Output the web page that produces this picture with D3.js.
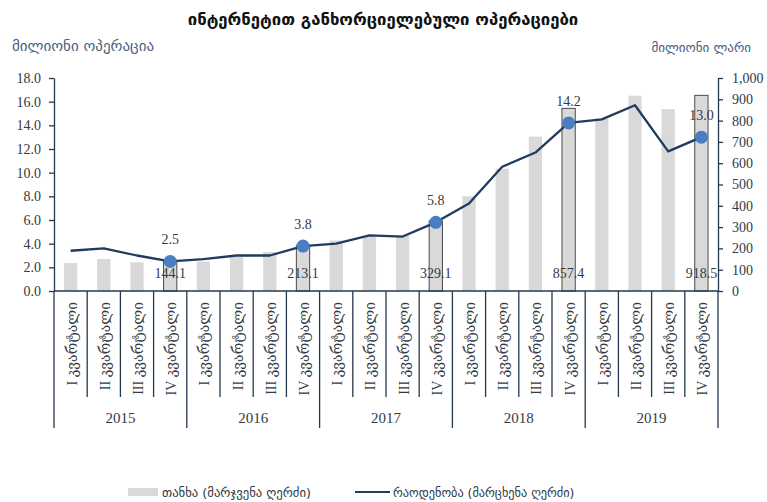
<!DOCTYPE html>
<html>
<head>
<meta charset="utf-8">
<script src="https://cdn.jsdelivr.net/npm/d3@7"></script>
<style>
  html, body { margin: 0; padding: 0; background: #fff; }
  svg { display: block; }
</style>
</head>
<body>
<svg id="chart" width="767" height="502"></svg>
<script>
// Internet operations by quarter, 2015–2019
const years = ["2015", "2016", "2017", "2018", "2019"];
const quarters = ["I კვარტალი", "II კვარტალი", "III კვარტალი", "IV კვარტალი"];
// amount, million GEL (right axis, bars)
const amount = [131, 150, 135, 144.1, 138, 162, 183, 213.1, 237, 255, 262, 329.1,
                445, 574, 725, 857.4, 810, 917, 854, 918.5];
// count, million operations (left axis, line)
const count = [3.4, 3.6, 3.0, 2.5, 2.7, 3.0, 3.0, 3.8, 4.0, 4.7, 4.6, 5.8,
               7.4, 10.5, 11.7, 14.2, 14.5, 15.7, 11.8, 13.0];
const leftTicks = [0, 2, 4, 6, 8, 10, 12, 14, 16, 18];
const rightTicks = [0, 100, 200, 300, 400, 500, 600, 700, 800, 900, 1000];

const title = "ინტერნეტით განხორციელებული ოპერაციები";
const leftTitle = "მილიონი ოპერაცია";
const rightTitle = "მილიონი ლარი";
const legendBar = "თანხა (მარჯვენა ღერძი)";
const legendLine = "რაოდენობა (მარცხენა ღერძი)";

const rows = [];
years.forEach((yr, yi) => quarters.forEach((q, qi) => {
  const i = yi * 4 + qi;
  rows.push({ key: yr + "-" + qi, year: yr, quarter: q, amount: amount[i], count: count[i], mark: qi === 3 });
}));

const svg = d3.select("#chart");
const W = 767, H = 502;
const m = { top: 78, right: 49, bottom: 211, left: 54 };
const x0 = m.left, x1 = W - m.right, yBase = H - m.bottom;

const serif = "'Liberation Serif', 'DejaVu Serif', serif";
const geo = "'DejaVu Sans', sans-serif";
const axisColor = "#24384f";
const textColor = "#333a44";

const x = d3.scaleBand().domain(rows.map(d => d.key)).range([x0, x1]).paddingInner(0).paddingOuter(0);
const yL = d3.scaleLinear().domain([0, 18]).range([yBase, m.top]);
const yR = d3.scaleLinear().domain([0, 1000]).range([yBase, m.top]);
const bw = x.bandwidth() * 0.4;

// title
svg.append("text").attr("x", 383).attr("y", 25).attr("text-anchor", "middle")
  .style("font-family", geo).style("font-weight", "bold").style("font-size", "16.7px")
  .attr("fill", "#111").text(title);

// axis titles
svg.append("text").attr("x", 12).attr("y", 51).style("font-family", geo).style("font-size", "15px")
  .attr("fill", "#46607e").text(leftTitle);
svg.append("text").attr("x", 751).attr("y", 52).attr("text-anchor", "end").style("font-family", geo).style("font-size", "13px")
  .attr("fill", "#46607e").text(rightTitle);

// bars
svg.append("g").selectAll("rect").data(rows).join("rect")
  .attr("x", d => x(d.key) + (x.bandwidth() - bw) / 2)
  .attr("y", d => yR(d.amount))
  .attr("width", bw)
  .attr("height", d => yBase - yR(d.amount))
  .attr("fill", "#d9d9d9")
  .attr("stroke", d => d.mark ? "#4a4a4a" : "none")
  .attr("stroke-width", 1);

// line
const line = d3.line().x(d => x(d.key) + x.bandwidth() / 2).y(d => yL(d.count));
svg.append("path").datum(rows).attr("d", line)
  .attr("fill", "none").attr("stroke", "#1f3b5e").attr("stroke-width", 2.3).attr("stroke-linejoin", "round");

// highlighted points
const marked = rows.filter(d => d.mark);
svg.append("g").selectAll("circle").data(marked).join("circle")
  .attr("cx", d => x(d.key) + x.bandwidth() / 2)
  .attr("cy", d => yL(d.count))
  .attr("r", 6.5)
  .attr("fill", "#4a7dc2");

// value labels
svg.append("g").selectAll("text").data(marked).join("text")
  .attr("x", d => x(d.key) + x.bandwidth() / 2)
  .attr("y", d => yL(d.count) - 17)
  .attr("text-anchor", "middle")
  .style("font-family", serif).style("font-size", "14px").attr("fill", textColor)
  .text(d => d3.format(".1f")(d.count));
svg.append("g").selectAll("text").data(marked).join("text")
  .attr("x", d => x(d.key) + x.bandwidth() / 2)
  .attr("y", 278)
  .attr("text-anchor", "middle")
  .style("font-family", serif).style("font-size", "14px").attr("fill", textColor)
  .text(d => d3.format(".1f")(d.amount));

// left axis
const axL = svg.append("g").attr("transform", `translate(${x0},0)`)
  .call(d3.axisLeft(yL).tickValues(leftTicks).tickFormat(d3.format(".1f")).tickSize(5).tickSizeOuter(0));
// right axis
const axR = svg.append("g").attr("transform", `translate(${x1},0)`)
  .call(d3.axisRight(yR).tickValues(rightTicks).tickFormat(d3.format(",")).tickSize(5).tickSizeOuter(0));
[axL, axR].forEach(g => {
  g.select(".domain").attr("stroke", axisColor).attr("stroke-width", 1.3);
  g.selectAll(".tick line").attr("stroke", axisColor).attr("stroke-width", 1.3);
  g.selectAll(".tick text").style("font-family", serif).style("font-size", "14px").attr("fill", textColor);
});
axL.selectAll(".tick text").attr("x", -13);
axR.selectAll(".tick text").attr("x", 14);

// category axis: baseline, dividers, labels
const gx = svg.append("g");
gx.append("line").attr("x1", x0).attr("x2", x1).attr("y1", yBase).attr("y2", yBase)
  .attr("stroke", axisColor).attr("stroke-width", 1.3);
const bounds = rows.map(d => x(d.key)).concat([x1]);
gx.selectAll("line.div").data(bounds).join("line").attr("class", "div")
  .attr("x1", d => d).attr("x2", d => d)
  .attr("y1", yBase)
  .attr("y2", (d, i) => i % 4 === 0 ? 428 : 397)
  .attr("stroke", axisColor).attr("stroke-width", 1.3);
gx.selectAll("text.q").data(rows).join("text").attr("class", "q")
  .attr("transform", d => `translate(${x(d.key) + x.bandwidth() / 2 + 1.5},302) rotate(-90)`)
  .attr("text-anchor", "end").attr("dominant-baseline", "central")
  .style("font-family", serif).style("font-size", "14px").attr("fill", textColor)
  .text(d => d.quarter);
gx.selectAll("text.yr").data(years).join("text").attr("class", "yr")
  .attr("x", (d, i) => (bounds[i * 4] + bounds[i * 4 + 4]) / 2)
  .attr("y", 423).attr("text-anchor", "middle")
  .style("font-family", serif).style("font-size", "15px").attr("fill", textColor)
  .text(d => d);

// legend
const lg = svg.append("g");
lg.append("rect").attr("x", 128).attr("y", 488).attr("width", 30).attr("height", 8).attr("fill", "#d9d9d9");
lg.append("text").attr("x", 162).attr("y", 497).style("font-family", geo).style("font-size", "12.7px")
  .attr("fill", textColor).text(legendBar);
lg.append("line").attr("x1", 355).attr("x2", 390).attr("y1", 492).attr("y2", 492)
  .attr("stroke", "#1f3b5e").attr("stroke-width", 2);
lg.append("text").attr("x", 393).attr("y", 497).style("font-family", geo).style("font-size", "12.3px")
  .attr("fill", textColor).text(legendLine);
</script>
</body>
</html>
